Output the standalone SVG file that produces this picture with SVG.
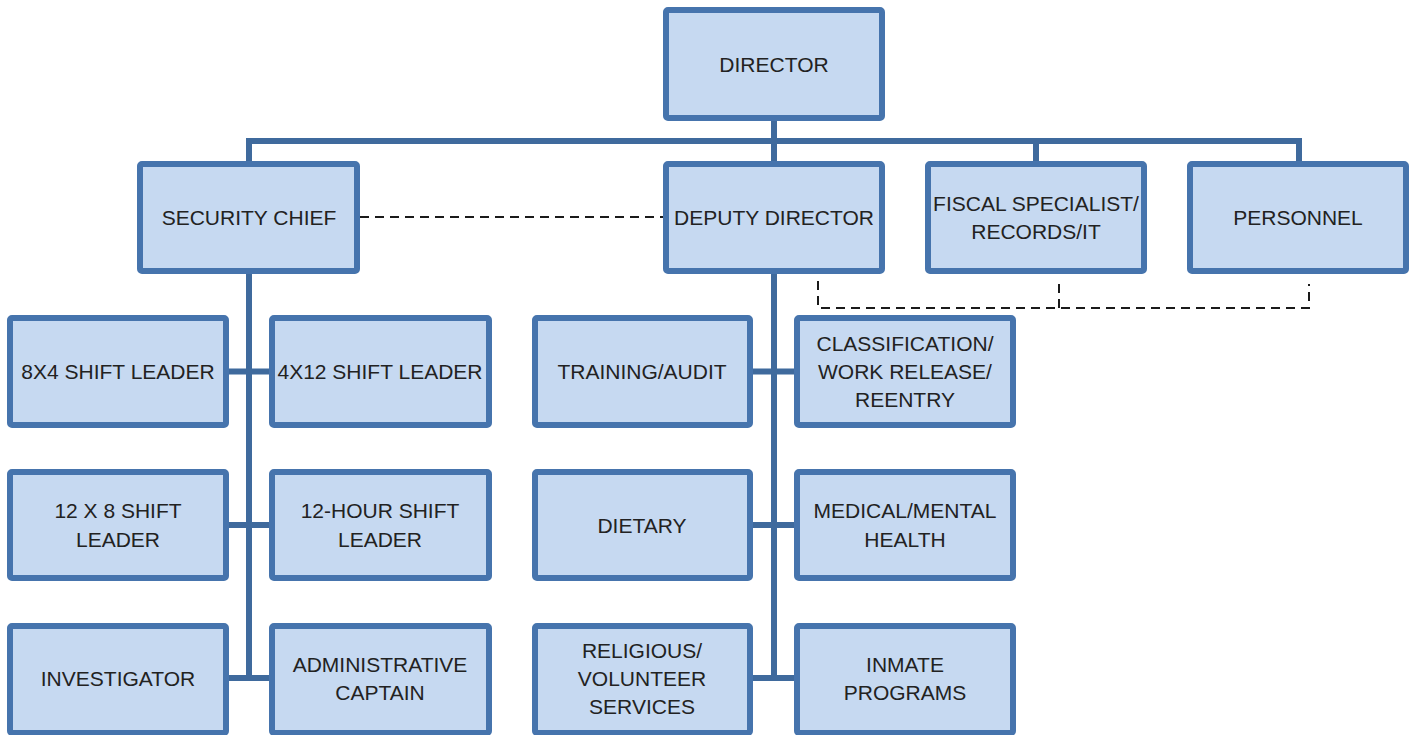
<svg xmlns="http://www.w3.org/2000/svg" width="1417" height="735" viewBox="0 0 1417 735">
<style>
.box{fill:#c6d9f1;stroke:#4674ad;stroke-width:6}
.t{font-family:"Liberation Sans",Arial,sans-serif;font-size:21px;fill:#222;text-anchor:middle}
.ln{stroke:#3f6a9d;stroke-width:6;fill:none}
.dash{stroke:#1a1a1a;stroke-width:2;stroke-dasharray:9 6;fill:none}
</style>
<rect width="1417" height="735" fill="#ffffff"/>
<g id="connectors">
<path class="ln" d="M774 121V161M249 141H1299M249 138V161M1036 138V161M1299 138V161"/>
<path class="ln" d="M249 274V678M229 371.5H270M229 525H270M229 678H270"/>
<path class="ln" d="M774 274V678M753 371.5H795M753 525H795M753 678H795"/>
<path class="dash" d="M360 217H664"/>
<path class="dash" d="M818 281V308H1309V284M1059 284V308"/>
</g>
<g id="director"><rect class="box" x="666" y="10" width="216" height="108" rx="2"/><text class="t" x="774" y="71.5">DIRECTOR</text></g>
<g id="security-chief"><rect class="box" x="140" y="164" width="217" height="107" rx="2"/><text class="t" x="249" y="224.5">SECURITY CHIEF</text></g>
<g id="deputy-director"><rect class="box" x="666" y="164" width="216" height="107" rx="2"/><text class="t" x="774" y="224.5">DEPUTY DIRECTOR</text></g>
<g id="fiscal"><rect class="box" x="928" y="164" width="216" height="107" rx="2"/><text class="t" x="1036" y="210.5">FISCAL SPECIALIST/</text><text class="t" x="1036" y="238.5">RECORDS/IT</text></g>
<g id="personnel"><rect class="box" x="1190" y="164" width="216" height="107" rx="2"/><text class="t" x="1298" y="224.5">PERSONNEL</text></g>
<g id="shift-8x4"><rect class="box" x="10" y="318" width="216" height="107" rx="2"/><text class="t" x="118" y="378.5">8X4 SHIFT LEADER</text></g>
<g id="shift-4x12"><rect class="box" x="272" y="318" width="217" height="107" rx="2"/><text class="t" x="380" y="378.5">4X12 SHIFT LEADER</text></g>
<g id="training"><rect class="box" x="535" y="318" width="215" height="107" rx="2"/><text class="t" x="642" y="378.5">TRAINING/AUDIT</text></g>
<g id="classification"><rect class="box" x="797" y="318" width="216" height="107" rx="2"/><text class="t" x="905" y="350.5">CLASSIFICATION/</text><text class="t" x="905" y="378.5">WORK RELEASE/</text><text class="t" x="905" y="406.5">REENTRY</text></g>
<g id="shift-12x8"><rect class="box" x="10" y="472" width="216" height="106" rx="2"/><text class="t" x="118" y="517.5">12 X 8 SHIFT</text><text class="t" x="118" y="546.5">LEADER</text></g>
<g id="shift-12hour"><rect class="box" x="272" y="472" width="217" height="106" rx="2"/><text class="t" x="380" y="517.5">12-HOUR SHIFT</text><text class="t" x="380" y="546.5">LEADER</text></g>
<g id="dietary"><rect class="box" x="535" y="472" width="215" height="106" rx="2"/><text class="t" x="642" y="532.5">DIETARY</text></g>
<g id="medical"><rect class="box" x="797" y="472" width="216" height="106" rx="2"/><text class="t" x="905" y="517.5">MEDICAL/MENTAL</text><text class="t" x="905" y="546.5">HEALTH</text></g>
<g id="investigator"><rect class="box" x="10" y="626" width="216" height="107" rx="2"/><text class="t" x="118" y="685.5">INVESTIGATOR</text></g>
<g id="admin-captain"><rect class="box" x="272" y="626" width="217" height="107" rx="2"/><text class="t" x="380" y="671.5">ADMINISTRATIVE</text><text class="t" x="380" y="699.5">CAPTAIN</text></g>
<g id="religious"><rect class="box" x="535" y="626" width="215" height="107" rx="2"/><text class="t" x="642" y="657.5">RELIGIOUS/</text><text class="t" x="642" y="685.5">VOLUNTEER</text><text class="t" x="642" y="713.5">SERVICES</text></g>
<g id="inmate-programs"><rect class="box" x="797" y="626" width="216" height="107" rx="2"/><text class="t" x="905" y="671.5">INMATE</text><text class="t" x="905" y="699.5">PROGRAMS</text></g>
</svg>
